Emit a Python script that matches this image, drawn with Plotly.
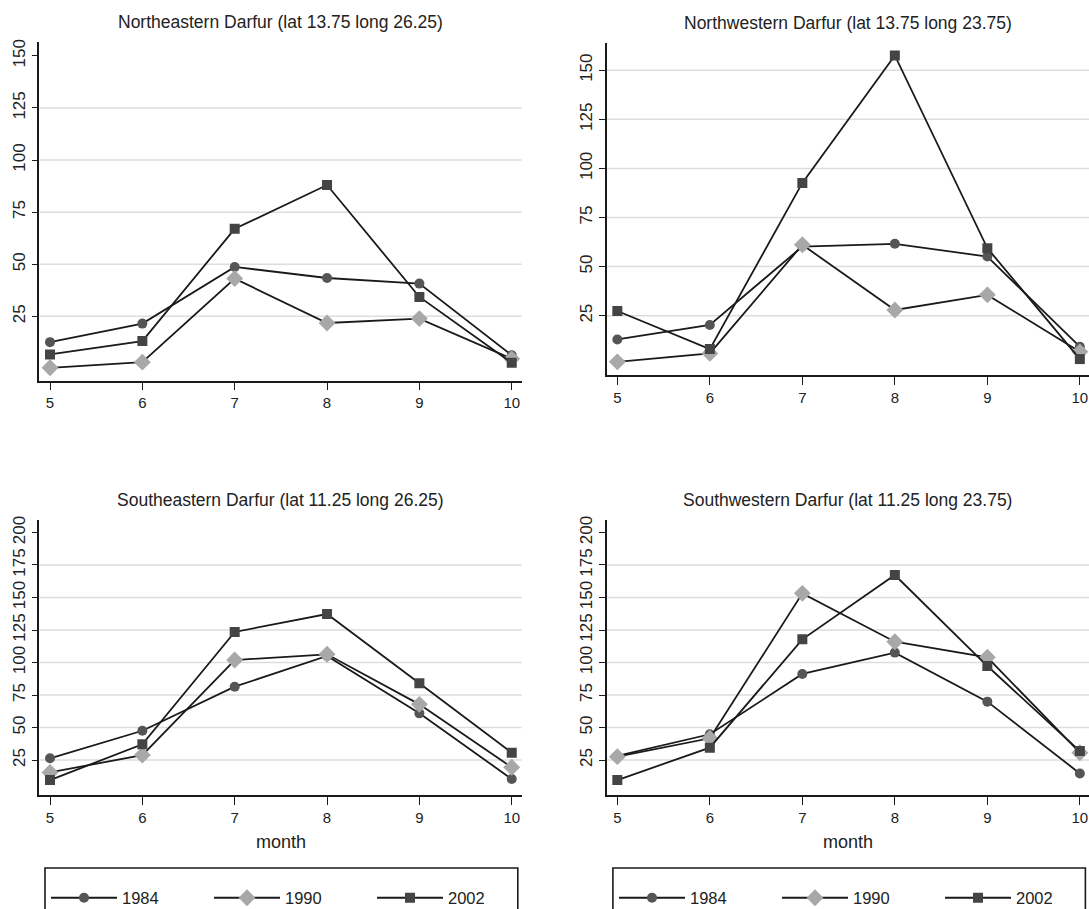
import plotly.graph_objects as go

W, H = 1089, 909
FONT = "Liberation Sans, Arial, sans-serif"

months = [5, 6, 7, 8, 9, 10]
years = ["1984", "1990", "2002"]

ne_1984 = [12.6, 21.5, 48.7, 43.4, 40.7, 6.3]
ne_1990 = [0.3, 3.0, 43.1, 21.8, 23.9, 4.6]
ne_2002 = [6.7, 13.1, 67.0, 88.0, 34.3, 2.7]

nw_1984 = [12.9, 20.3, 60.2, 61.6, 55.1, 9.2]
nw_1990 = [1.5, 5.8, 61.1, 27.9, 35.6, 6.6]
nw_2002 = [27.4, 8.0, 92.6, 157.5, 59.4, 2.9]

se_1984 = [26.3, 47.5, 81.4, 105.0, 60.9, 10.4]
se_1990 = [15.5, 28.8, 101.9, 106.3, 67.8, 19.4]
se_2002 = [9.6, 37.1, 123.5, 137.3, 84.0, 30.6]

sw_1984 = [28.1, 44.8, 91.2, 107.6, 69.9, 14.7]
sw_1990 = [27.6, 41.7, 153.2, 116.0, 104.0, 30.6]
sw_2002 = [9.6, 34.5, 117.8, 167.3, 97.3, 31.9]

titles = [
    "Northeastern Darfur (lat 13.75 long 26.25)",
    "Northwestern Darfur (lat 13.75 long 23.75)",
    "Southeastern Darfur (lat 11.25 long 26.25)",
    "Southwestern Darfur (lat 11.25 long 23.75)",
]
ticks_top = [25, 50, 75, 100, 125, 150]
ticks_bottom = [25, 50, 75, 100, 125, 150, 175, 200]
grid_p1 = [25, 50, 75, 100, 125]
grid_p2 = [25, 50, 75, 100, 125, 150]
grid_p34 = [25, 50, 75, 100, 125, 150, 175]

panels = [
    dict(series=[ne_1984, ne_1990, ne_2002], ticks=ticks_top, grid=grid_p1,
         xdom=(39.3, 521.7), ydom=(41.7, 380.5), xr=[4.884, 10.108], yr=[-5.8, 156.8], legend=None),
    dict(series=[nw_1984, nw_1990, nw_2002], ticks=ticks_top, grid=grid_p2,
         xdom=(606.8, 1089), ydom=(42.7, 375.0), xr=[4.886, 10.099], yr=[-5.2, 164.0], legend=None),
    dict(series=[se_1984, se_1990, se_2002], ticks=ticks_bottom, grid=grid_p34,
         xdom=(39.3, 521.7), ydom=(520, 795), xr=[4.884, 10.108], yr=[-1.9, 209.6], legend="legend"),
    dict(series=[sw_1984, sw_1990, sw_2002], ticks=ticks_bottom, grid=grid_p34,
         xdom=(606.8, 1089), ydom=(520, 795), xr=[4.886, 10.099], yr=[-1.9, 209.6], legend="legend2"),
]

styles = [
    dict(symbol="circle", size=10, color="#555555"),
    dict(symbol="diamond", size=13, color="#a8a8a8"),
    dict(symbol="square", size=10, color="#444444"),
]

fig = go.Figure()
shapes = []
annotations = []

for i, p in enumerate(panels):
    n = "" if i == 0 else str(i + 1)
    xa, ya = "x" + n, "y" + n
    for s, yname, st in zip(p["series"], years, styles):
        fig.add_trace(go.Scatter(
            x=months, y=s, name=yname, mode="lines+markers",
            xaxis=xa, yaxis=ya,
            line=dict(color="#1a1a1a", width=1.8),
            marker=dict(symbol=st["symbol"], size=st["size"], color=st["color"], line=dict(width=0)),
            showlegend=p["legend"] is not None,
            legend=p["legend"] if p["legend"] else "legend",
        ))
    x0, x1 = p["xdom"]
    y0, y1 = p["ydom"]
    axis_common = dict(showline=True, linecolor="#1a1a1a", linewidth=1.6, ticks="outside",
                       tickcolor="#1a1a1a", tickwidth=1.4, showgrid=False, zeroline=False,
                       tickfont=dict(family=FONT, size=15, color="#222222"))
    fig.layout["xaxis" + n] = dict(axis_common, domain=[x0 / W, x1 / W], range=p["xr"],
                                   anchor=ya, tickvals=months, ticklen=8)
    fig.layout["yaxis" + n] = dict(axis_common, domain=[1 - y1 / H, 1 - y0 / H], range=p["yr"],
                                   anchor=xa, tickvals=p["ticks"], ticklen=6, tickangle=-90,
                                   tickfont=dict(family=FONT, size=17, color="#222222"))
    for g in p["grid"]:
        shapes.append(dict(type="line", xref=xa + " domain", yref=ya, x0=0, x1=1, y0=g, y1=g,
                           line=dict(color="#dddddd", width=1.5), layer="below"))
    annotations.append(dict(text=titles[i], xref="paper", yref="paper", x=(x0 + x1) / 2 / W,
                            y=1 - (y0 - 20) / H, showarrow=False, xanchor="center", yanchor="middle",
                            font=dict(family=FONT, size=17.5, color="#222222")))
    if p["legend"]:
        annotations.append(dict(text="month", xref="paper", yref="paper", x=(x0 + x1) / 2 / W,
                                y=1 - 842 / H, showarrow=False, xanchor="center", yanchor="middle",
                                font=dict(family=FONT, size=18, color="#222222")))

# legend frames
for lx0, lx1 in [(45, 517.8), (612.9, 1085.4)]:
    shapes.append(dict(type="rect", xref="paper", yref="paper", x0=lx0 / W, x1=lx1 / W,
                       y0=-0.05, y1=1 - 868 / H, line=dict(color="#1a1a1a", width=1.6),
                       fillcolor="rgba(0,0,0,0)"))

leg_common = dict(orientation="h", xanchor="left", yanchor="middle", y=1 - 898 / H,
                  bgcolor="rgba(0,0,0,0)", borderwidth=0, itemwidth=66, entrywidth=82,
                  font=dict(family=FONT, size=16.5, color="#222222"), itemclick=False)
fig.update_layout(
    width=W, height=H, margin=dict(l=0, r=0, t=0, b=0, autoexpand=False),
    plot_bgcolor="white", paper_bgcolor="white",
    shapes=shapes, annotations=annotations,
    legend=dict(leg_common, x=46 / W),
    legend2=dict(leg_common, x=614 / W),
)

fig.write_html("out.html", config={"displayModeBar": False},
               post_script="document.body.style.margin='0px';document.body.style.overflow='hidden';")
